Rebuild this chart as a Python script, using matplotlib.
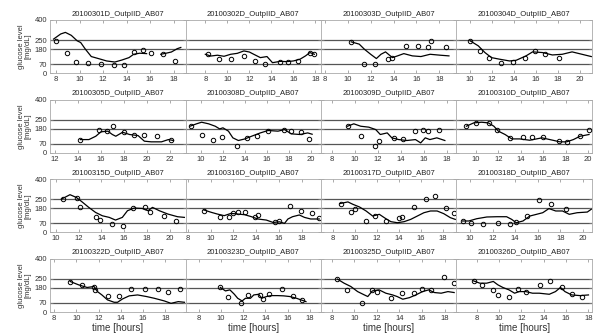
import numpy as np
import matplotlib
matplotlib.use('Agg')
import matplotlib.pyplot as plt

plt.rcParams['font.family'] = ['Liberation Sans', 'DejaVu Sans']

titles = ['20100301D_OutpIID_AB07', '20100302D_OutpIID_AB07', '20100303D_OutpIID_AB07', '20100304D_OutpIID_AB07',
          '20100305D_OutpIID_AB07', '20100308D_OutpIID_AB07', '20100309D_OutpIID_AB07', '20100310D_OutpIID_AB07',
          '20100315D_OutpIID_AB07', '20100316D_OutpIID_AB07', '20100317D_OutpIID_AB07', '20100318D_OutpIID_AB07',
          '20100322D_OutpIID_AB07', '20100323D_OutpIID_AB07', '20100325D_OutpIID_AB07', '20100326D_OutpIID_AB07']

# x ranges (hours) of each day
xranges = [(7.5, 19.0), (6.2, 18.5), (7.65, 19.5), (8.75, 21.1),
           (11.55, 23.4), (8.6, 20.9), (7.05, 18.8), (8.25, 20.35),
           (9.5, 21.4), (7.8, 19.7), (6.9, 19.2), (8.8, 20.8),
           (7.65, 19.8), (6.8, 19.0), (7.05, 19.05), (6.2, 18.3)]

ref_levels = [70, 180, 250]
yticks = [0, 70, 180, 250, 400]

# sensor (CGM) curves
cgm_t01 = [7.8, 8.4, 8.8, 9.3, 9.8, 10.1, 10.5, 11.0, 11.8, 12.3, 13.0, 13.6, 14.2, 14.6, 15.1, 15.7, 16.3, 16.9, 17.3, 17.8, 18.3, 18.6]
cgm_g01 = [257, 295, 307, 285, 244, 231, 181, 126, 106, 93, 85, 100, 118, 143, 151, 148, np.nan, 143, 150, 160, 185, 194]
cgm_t02 = [8.0, 8.5, 9.1, 9.7, 10.3, 10.9, 11.5, 12.0, 12.4, 13.0, 13.6, 14.1, 14.8, 15.4, 16.0, 16.6, 17.1, 17.5, 17.9]
cgm_g02 = [143, 130, 136, 128, 143, 150, 168, 160, 143, 118, 126, 80, 90, 88, 93, 106, 131, 156, 143]
cgm_t03 = [10.3, 11.0, 11.45, 12.0, 12.5, 12.9, 13.3, 13.9, 14.35, 14.9, 15.65, 16.4, 17.2, 18.1, 18.85]
cgm_g03 = [236, 219, 181, 143, 111, 143, 161, 118, 131, 148, 131, 126, 143, 136, 131]
cgm_t04 = [10.0, 10.75, 11.35, 11.95, 12.7, 13.6, 14.2, 15.1, 15.7, 16.6, 17.5, 18.4, 19.3, 20.2, 21.05]
cgm_g04 = [244, 206, 156, 118, 106, 93, 98, 131, 161, 156, 138, 143, 161, 143, 126]
cgm_t05 = [14.2, 14.95, 15.55, 16.0, 16.6, 17.0, 17.3, 17.9, 18.5, 19.25, 19.8, 20.4, 21.3, 21.9, 22.35]
cgm_g05 = [100, 100, 125, 158, 163, 138, 125, 155, 138, 130, 88, 83, 83, 100, 93]
cgm_t06 = [9.0, 9.6, 10.06, 10.7, 11.3, 11.7, 12.0, 12.5, 12.9, 13.4, 14.0, 14.6, 15.4, 16.1, 17.0, 17.6, 18.2, 19.0, 19.7, 20.1]
cgm_g06 = [200, 218, 230, 218, 200, 180, 188, 163, 113, 93, 105, 125, 150, 168, 163, 175, 143, 138, 150, 140]
cgm_t07 = [9.35, 9.9, 10.5, 11.2, 11.8, 12.2, 12.8, 13.2, 13.8, 14.5, 15.25, 15.7, 16.1, 16.5, 17.1, 17.8]
cgm_g07 = [200, 218, 200, 193, 175, 138, 150, 113, 100, 93, 100, 75, 113, 100, 113, 93]
cgm_t08 = [9.14, 9.8, 10.5, 11.1, 11.6, 12.0, 12.6, 13.2, 13.9, 14.8, 15.9, 16.6, 17.5, 18.1, 18.7, 19.3, 20.1]
cgm_g08 = [200, 225, 230, 225, 200, 163, 138, 105, 105, 95, 113, 100, 83, 83, 100, 125, 138]
cgm_t09 = [10.5, 11.25, 11.8, 12.3, 12.9, 13.5, 14.1, 14.7, 15.25, 15.85, 16.3, 16.9, 17.6, 18.1, 18.5, 19.1, 19.85, 20.7, 21.3]
cgm_g09 = [250, 283, 263, 230, 188, 150, 125, 113, 93, 113, 163, 183, 180, 163, 188, 163, 138, 118, 113]
cgm_t10 = [9.4, 10.06, 10.6, 11.2, 11.8, 12.4, 13.0, 13.6, 14.15, 14.9, 15.5, 16.05, 16.5, 16.8, 17.2, 17.8, 18.25, 18.8, 19.55]
cgm_g10 = [169, 151, 138, 126, 143, 138, 133, 118, 101, 93, 75, 80, 68, 101, 118, 131, 113, 101, 101]
cgm_t11 = [8.6, 9.35, 9.8, 10.4, 11.0, 11.6, 12.2, 12.8, 13.25, 13.85, 14.45, 15.05, 15.65, 16.25, 16.85, 17.45, 18.05, 18.65, 19.1]
cgm_g11 = [216, 229, 211, 191, 161, 123, 136, 103, 81, 73, 81, 98, 123, 148, 161, 161, 141, 111, 98]
cgm_t12 = [9.33, 9.9, 10.6, 11.5, 12.4, 13.25, 13.7, 14.1, 14.7, 15.3, 15.9, 16.45, 17.0, 17.6, 18.2, 18.8, 19.5, 20.4, 20.75]
cgm_g12 = [86, 86, 103, 116, 118, 118, 98, 73, 86, 123, 136, 148, 179, 161, 161, 136, 148, 153, 174]
cgm_t13 = [9.45, 10.2, 10.97, 11.6, 11.9, 12.3, 12.8, 13.4, 13.7, 14.15, 14.75, 15.5, 16.3, 17.0, 17.9, 18.5, 19.15, 19.7]
cgm_g13 = [229, 204, 184, 191, 153, 128, 91, 73, 73, 98, 121, 128, 116, 103, 83, 65, 78, 73]
cgm_t14 = [9.94, 10.4, 10.8, 11.2, 11.5, 11.9, 12.2, 12.65, 12.95, 13.4, 13.65, 14.1, 14.5, 15.1, 15.65, 16.2, 16.8, 17.2, 17.65]
cgm_g14 = [184, 158, 166, 133, 103, 83, 103, 103, 128, 133, 103, 116, 123, 123, 121, 116, 103, 91, 78]
cgm_t15 = [8.5, 9.1, 9.7, 10.3, 10.9, 11.2, 11.6, 12.2, 12.8, 13.4, 13.8, 14.3, 14.9, 15.45, 16.05, 16.6, 17.1, 17.7, 18.3, 18.85]
cgm_g15 = [247, 216, 191, 153, 128, 116, 158, 166, 141, 128, 116, 96, 108, 128, 153, 166, 146, 141, 153, 146]
cgm_t16 = [7.7, 8.3, 8.9, 9.5, 9.9, 10.35, 10.9, 11.4, 11.8, 12.4, 13.0, 13.6, 14.5, 15.05, 15.5, 15.9, 16.5, 17.25, 18.0]
cgm_g16 = [234, 216, 216, 229, 204, 184, 166, 141, 153, 153, 141, 141, 133, 153, 184, 153, 128, 123, 128]

# finger stick (reference) measurements
bg_t01 = [8.0, 8.9, 9.7, 10.7, 11.8, 12.9, 13.8, 14.6, 15.4, 16.1, 17.1, 18.1]
bg_g01 = [244, 156, 85, 80, 73, 65, 65, 161, 174, 156, 143, 93]
bg_t02 = [8.2, 9.2, 10.3, 11.5, 12.5, 13.4, 14.8, 15.5, 16.4, 17.5, 17.9]
bg_g02 = [143, 106, 106, 131, 93, 68, 85, 88, 93, 156, 143]
bg_t03 = [10.3, 11.45, 12.4, 13.5, 13.9, 15.1, 16.1, 17.0, 17.3, 18.6]
bg_g03 = [236, 73, 73, 111, 118, 204, 204, 199, 244, 199]
bg_t04 = [10.0, 10.9, 11.7, 12.8, 13.9, 15.0, 15.9, 16.8, 18.1]
bg_g04 = [244, 169, 118, 80, 88, 118, 164, 148, 118]
bg_t05 = [14.2, 15.85, 16.5, 17.1, 18.0, 18.9, 19.8, 20.9, 22.1]
bg_g05 = [100, 170, 163, 205, 155, 138, 138, 130, 100]
bg_t06 = [9.06, 10.06, 11.06, 11.9, 13.3, 14.15, 15.1, 16.1, 17.5, 18.2, 19.1, 19.8]
bg_g06 = [200, 138, 95, 118, 55, 113, 130, 163, 175, 163, 155, 105]
bg_t07 = [9.4, 10.56, 11.7, 12.1, 13.4, 14.2, 15.25, 15.9, 16.3, 17.3]
bg_g07 = [200, 130, 50, 93, 113, 108, 163, 175, 163, 175]
bg_t08 = [9.14, 10.0, 11.2, 11.9, 13.05, 14.2, 15.0, 16.0, 17.4, 18.1, 19.3, 20.1]
bg_g08 = [200, 225, 225, 168, 113, 118, 118, 118, 88, 80, 125, 168]
bg_t09 = [10.65, 11.9, 12.1, 13.5, 13.9, 14.9, 15.9, 16.8, 17.8, 18.3, 19.55, 20.6]
bg_g09 = [250, 258, 188, 113, 93, 63, 50, 180, 193, 150, 120, 88]
bg_t10 = [9.4, 10.85, 11.6, 11.96, 12.45, 13.04, 13.9, 14.2, 15.7, 16.0, 17.0, 17.95, 18.9, 19.5]
bg_g10 = [164, 113, 113, 143, 156, 156, 113, 133, 80, 88, 196, 164, 143, 110]
bg_t11 = [8.7, 9.65, 9.95, 11.0, 11.8, 12.8, 13.95, 14.3, 15.36, 16.4, 17.3, 18.3, 19.0]
bg_g11 = [211, 156, 179, 86, 123, 86, 106, 118, 194, 254, 272, 186, 143]
bg_t12 = [9.4, 10.1, 11.15, 12.45, 13.55, 14.1, 15.05, 16.1, 17.2, 18.55]
bg_g12 = [86, 68, 65, 68, 60, 81, 123, 244, 211, 179]
bg_t13 = [9.45, 10.5, 11.6, 11.7, 12.85, 13.85, 14.9, 16.2, 17.3, 18.2, 19.3]
bg_g13 = [224, 204, 191, 166, 121, 121, 171, 171, 171, 148, 171]
bg_t14 = [9.94, 10.6, 11.8, 12.46, 13.5, 13.8, 14.3, 15.5, 16.5, 17.3]
bg_g14 = [184, 116, 65, 128, 128, 96, 136, 176, 121, 91]
bg_t15 = [8.5, 9.33, 10.66, 11.6, 12.05, 13.3, 14.2, 15.3, 15.96, 16.8, 17.97, 18.86]
bg_g15 = [247, 166, 65, 166, 153, 103, 146, 146, 174, 166, 259, 216]
bg_t16 = [7.8, 8.5, 9.5, 9.9, 10.9, 11.7, 12.4, 13.7, 14.6, 15.6, 16.5, 17.4]
bg_g16 = [234, 204, 166, 128, 116, 171, 153, 204, 234, 189, 133, 111]

cgm_t = [cgm_t01, cgm_t02, cgm_t03, cgm_t04, cgm_t05, cgm_t06, cgm_t07, cgm_t08,
         cgm_t09, cgm_t10, cgm_t11, cgm_t12, cgm_t13, cgm_t14, cgm_t15, cgm_t16]
cgm_g = [cgm_g01, cgm_g02, cgm_g03, cgm_g04, cgm_g05, cgm_g06, cgm_g07, cgm_g08,
         cgm_g09, cgm_g10, cgm_g11, cgm_g12, cgm_g13, cgm_g14, cgm_g15, cgm_g16]
bg_t = [bg_t01, bg_t02, bg_t03, bg_t04, bg_t05, bg_t06, bg_t07, bg_t08,
        bg_t09, bg_t10, bg_t11, bg_t12, bg_t13, bg_t14, bg_t15, bg_t16]
bg_g = [bg_g01, bg_g02, bg_g03, bg_g04, bg_g05, bg_g06, bg_g07, bg_g08,
        bg_g09, bg_g10, bg_g11, bg_g12, bg_g13, bg_g14, bg_g15, bg_g16]

fig, axes = plt.subplots(4, 4, figsize=(5.96, 3.33), dpi=100)
fig.subplots_adjust(left=0.084, right=0.993, top=0.94, bottom=0.063, wspace=0, hspace=0.49)

for i, ax in enumerate(axes.flat):
    for lev in ref_levels:
        ax.axhline(lev, color='#555555', lw=0.9, zorder=1)
    ax.plot(cgm_t[i], cgm_g[i], color='black', lw=0.9, zorder=2)
    ax.plot(bg_t[i], bg_g[i], 'o', mfc='none', mec='black', ms=3.2, mew=0.7, zorder=3)
    ax.set_xlim(xranges[i])
    ax.set_ylim(0, 400)
    ax.set_yticks(yticks)
    ax.set_xticks(np.arange(np.ceil(xranges[i][0] / 2) * 2, xranges[i][1] + 0.01, 2))
    ax.xaxis.set_major_formatter(matplotlib.ticker.FormatStrFormatter('%d'))
    ax.tick_params(direction='in', top=True, right=True, length=2, width=0.5,
                   color='#888888', labelsize=5.5, pad=2, labelcolor='#333333')
    for s in ax.spines.values():
        s.set_color('#aaaaaa')
        s.set_linewidth(0.6)
    ax.set_title(titles[i], fontsize=5.5, pad=3, color='#222222')
    if i % 4 != 0:
        ax.set_yticklabels([])
    else:
        ax.set_ylabel('glucose level\n[mg/dL]', fontsize=5.5, labelpad=2, linespacing=1.0, color='#333333')
    if i >= 12:
        ax.set_xlabel('time [hours]', fontsize=7, labelpad=1, color='#333333')

fig.savefig('out.png', dpi=100)
